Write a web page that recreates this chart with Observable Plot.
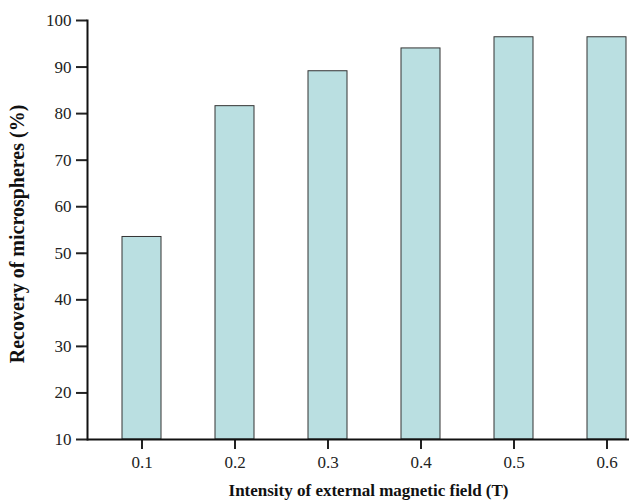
<!DOCTYPE html>
<html>
<head>
<meta charset="utf-8">
<script src="https://cdn.jsdelivr.net/npm/d3@7"></script>
<script src="https://cdn.jsdelivr.net/npm/@observablehq/plot@0.6"></script>
<style>
  html, body { margin: 0; padding: 0; background: #fff; }
</style>
</head>
<body>
<div id="chart"></div>
<script>
const fields = ["0.1", "0.2", "0.3", "0.4", "0.5", "0.6"];
const recovery = [53.5, 81.6, 89.1, 94.0, 96.4, 96.4];
const yTicks = [10, 20, 30, 40, 50, 60, 70, 80, 90, 100];
const xTitle = "Intensity of external magnetic field (T)";
const yTitle = "Recovery of microspheres (%)";

const data = fields.map((f, i) => ({field: f, value: recovery[i]}));

const chart = Plot.plot({
  width: 629,
  height: 501,
  marginTop: 20,
  marginBottom: 62,
  marginLeft: 87,
  marginRight: 0,
  style: {fontFamily: "'Liberation Serif', 'DejaVu Serif', serif", fontSize: "17px", color: "#222", background: "#fff"},
  x: {domain: fields, range: [87, 662], paddingInner: 0.58, paddingOuter: 0.38, label: null},
  y: {domain: [10, 100], label: null},
  marks: [
    Plot.barY(data, {x: "field", y1: 10, y2: "value", fill: "#badfe1", stroke: "#333", strokeWidth: 1}),
    Plot.axisY({ticks: yTicks, tickSize: 11, tickPadding: 5, strokeWidth: 2, label: null, fontSize: 17}),
    Plot.axisX({tickSize: 10, tickPadding: 6, strokeWidth: 2, label: null, fontSize: 17, letterSpacing: "1px"}),
    Plot.frame({anchor: "left", strokeWidth: 2, stroke: "#111"}),
    Plot.ruleY([10], {strokeWidth: 2, stroke: "#111"}),
    Plot.text([xTitle], {frameAnchor: "bottom", textAnchor: "middle", dy: 56, dx: 10, fontWeight: "bold", fontSize: 17, fill: "#111"}),
    Plot.text([yTitle], {frameAnchor: "left", textAnchor: "middle", dx: -70, dy: 4, rotate: -90, fontWeight: "bold", fontSize: 20, fill: "#111"})
  ]
});
document.getElementById("chart").appendChild(chart);
</script>
</body>
</html>
